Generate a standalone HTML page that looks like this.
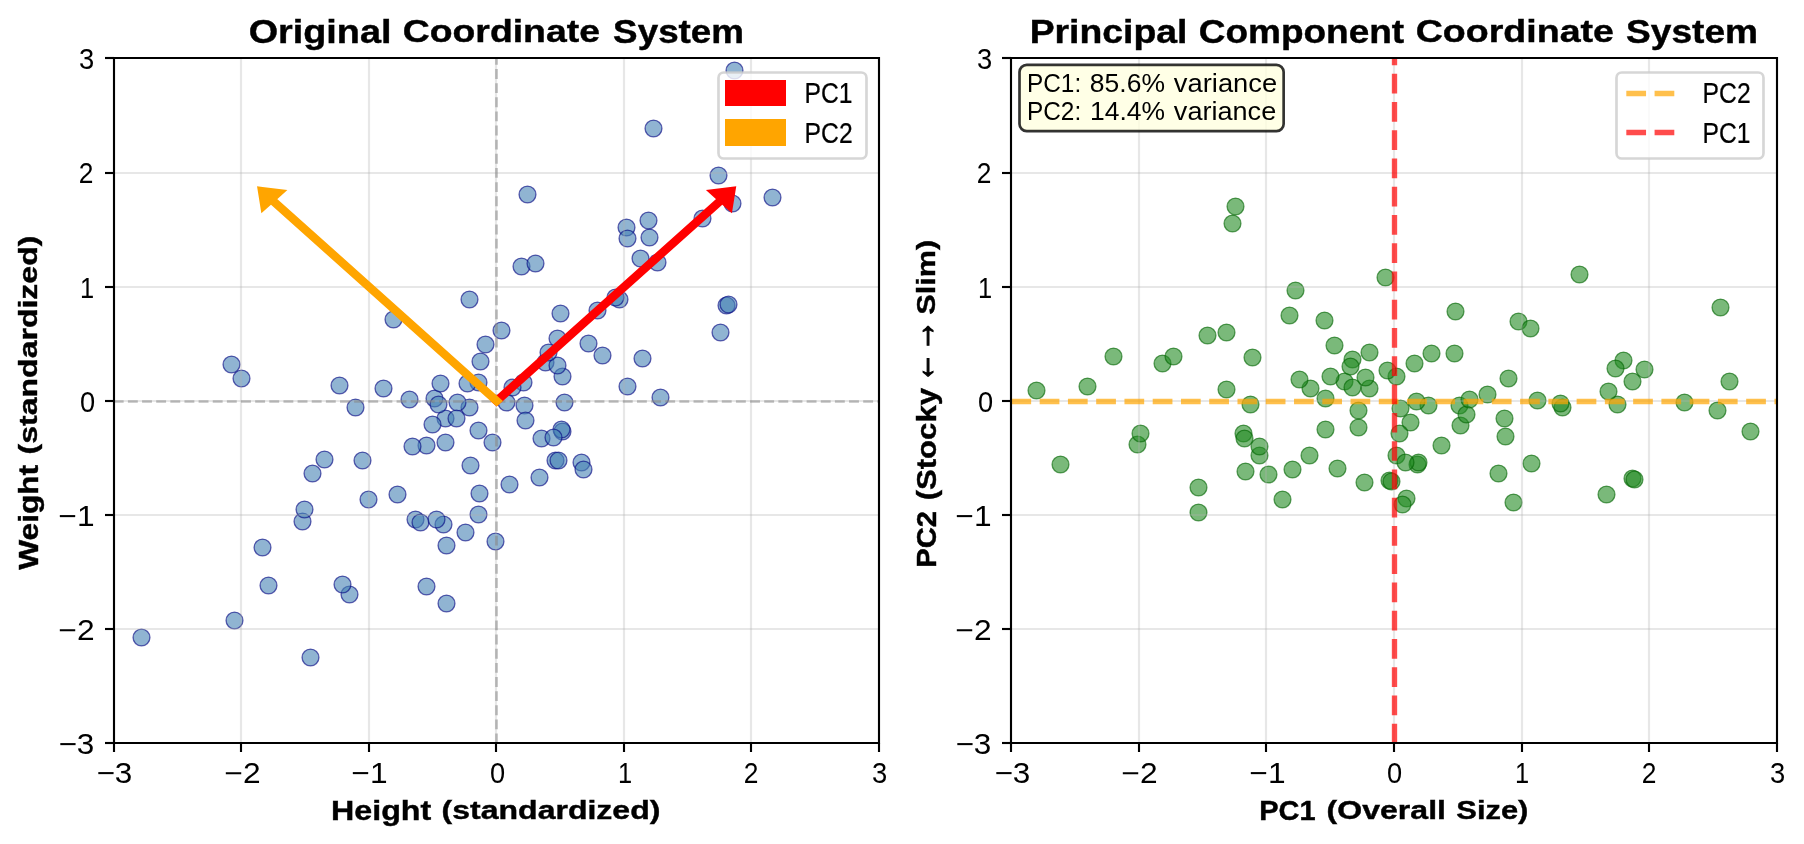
<!DOCTYPE html>
<html lang="en"><head><meta charset="utf-8"><title>PCA coordinate systems</title>
<style>html,body{margin:0;padding:0;background:#fff}body{width:1804px;height:844px;overflow:hidden}svg{display:block;will-change:transform}text{font-family:"Liberation Sans",sans-serif;fill:#000}</style></head><body>
<svg width="1804" height="844" viewBox="0 0 1804 844">
<rect width="1804" height="844" fill="#fff"/>
<defs>
<clipPath id="c0"><rect x="113.78" y="58.4" width="765.2" height="685.07"/></clipPath>
<clipPath id="c1"><rect x="1011.41" y="58.4" width="765.2" height="685.07"/></clipPath>
</defs>
<!-- left panel: original coordinate system -->
<g clip-path="url(#c0)" fill="#4682b4" fill-opacity="0.6" stroke="#000080" stroke-opacity="0.6" stroke-width="1.33">
<circle cx="581.50" cy="462.50" r="8.43"/><circle cx="492.50" cy="442.50" r="8.43"/><circle cx="602.50" cy="355.50" r="8.43"/><circle cx="726.50" cy="305.50" r="8.43"/><circle cx="478.50" cy="430.50" r="8.43"/><circle cx="478.50" cy="382.50" r="8.43"/><circle cx="734.50" cy="70.50" r="8.43"/><circle cx="619.50" cy="299.50" r="8.43"/><circle cx="445.50" cy="418.50" r="8.43"/><circle cx="588.50" cy="343.50" r="8.43"/><circle cx="446.50" cy="603.50" r="8.43"/><circle cx="445.50" cy="442.50" r="8.43"/><circle cx="545.50" cy="362.50" r="8.43"/><circle cx="241.50" cy="378.50" r="8.43"/><circle cx="268.50" cy="585.50" r="8.43"/><circle cx="432.50" cy="424.50" r="8.43"/><circle cx="368.50" cy="499.50" r="8.43"/><circle cx="555.50" cy="460.50" r="8.43"/><circle cx="383.50" cy="388.50" r="8.43"/><circle cx="312.50" cy="473.50" r="8.43"/><circle cx="718.50" cy="175.50" r="8.43"/><circle cx="479.50" cy="493.50" r="8.43"/><circle cx="521.50" cy="266.50" r="8.43"/><circle cx="310.50" cy="657.50" r="8.43"/><circle cx="434.50" cy="398.50" r="8.43"/><circle cx="527.50" cy="194.50" r="8.43"/><circle cx="349.50" cy="594.50" r="8.43"/><circle cx="564.50" cy="402.50" r="8.43"/><circle cx="426.50" cy="445.50" r="8.43"/><circle cx="470.50" cy="465.50" r="8.43"/><circle cx="426.50" cy="586.50" r="8.43"/><circle cx="772.50" cy="197.50" r="8.43"/><circle cx="509.50" cy="484.50" r="8.43"/><circle cx="362.50" cy="460.50" r="8.43"/><circle cx="627.50" cy="386.50" r="8.43"/><circle cx="339.50" cy="385.50" r="8.43"/><circle cx="541.50" cy="438.50" r="8.43"/><circle cx="234.50" cy="620.50" r="8.43"/><circle cx="324.50" cy="459.50" r="8.43"/><circle cx="539.50" cy="477.50" r="8.43"/><circle cx="615.50" cy="297.50" r="8.43"/><circle cx="535.50" cy="263.50" r="8.43"/><circle cx="495.50" cy="541.50" r="8.43"/><circle cx="469.50" cy="407.50" r="8.43"/><circle cx="302.50" cy="521.50" r="8.43"/><circle cx="409.50" cy="399.50" r="8.43"/><circle cx="446.50" cy="545.50" r="8.43"/><circle cx="660.50" cy="397.50" r="8.43"/><circle cx="560.50" cy="313.50" r="8.43"/><circle cx="262.50" cy="547.50" r="8.43"/><circle cx="557.50" cy="338.50" r="8.43"/><circle cx="457.50" cy="402.50" r="8.43"/><circle cx="415.50" cy="519.50" r="8.43"/><circle cx="597.50" cy="310.50" r="8.43"/><circle cx="657.50" cy="262.50" r="8.43"/><circle cx="642.50" cy="358.50" r="8.43"/><circle cx="393.50" cy="319.50" r="8.43"/><circle cx="467.50" cy="383.50" r="8.43"/><circle cx="558.50" cy="460.50" r="8.43"/><circle cx="649.50" cy="237.50" r="8.43"/><circle cx="443.50" cy="524.50" r="8.43"/><circle cx="485.50" cy="344.50" r="8.43"/><circle cx="355.50" cy="407.50" r="8.43"/><circle cx="342.50" cy="584.50" r="8.43"/><circle cx="626.50" cy="227.50" r="8.43"/><circle cx="702.50" cy="218.50" r="8.43"/><circle cx="501.50" cy="330.50" r="8.43"/><circle cx="653.50" cy="128.50" r="8.43"/><circle cx="562.50" cy="376.50" r="8.43"/><circle cx="420.50" cy="522.50" r="8.43"/><circle cx="562.50" cy="431.50" r="8.43"/><circle cx="728.50" cy="304.50" r="8.43"/><circle cx="506.50" cy="402.50" r="8.43"/><circle cx="732.50" cy="203.50" r="8.43"/><circle cx="141.50" cy="637.50" r="8.43"/><circle cx="627.50" cy="238.50" r="8.43"/><circle cx="523.50" cy="382.50" r="8.43"/><circle cx="469.50" cy="299.50" r="8.43"/><circle cx="524.50" cy="405.50" r="8.43"/><circle cx="231.50" cy="364.50" r="8.43"/><circle cx="480.50" cy="361.50" r="8.43"/><circle cx="561.50" cy="429.50" r="8.43"/><circle cx="720.50" cy="332.50" r="8.43"/><circle cx="438.50" cy="404.50" r="8.43"/><circle cx="397.50" cy="494.50" r="8.43"/><circle cx="440.50" cy="383.50" r="8.43"/><circle cx="640.50" cy="258.50" r="8.43"/><circle cx="557.50" cy="365.50" r="8.43"/><circle cx="436.50" cy="519.50" r="8.43"/><circle cx="583.50" cy="469.50" r="8.43"/><circle cx="525.50" cy="420.50" r="8.43"/><circle cx="648.50" cy="220.50" r="8.43"/><circle cx="412.50" cy="446.50" r="8.43"/><circle cx="465.50" cy="532.50" r="8.43"/><circle cx="456.50" cy="418.50" r="8.43"/><circle cx="304.50" cy="509.50" r="8.43"/><circle cx="553.50" cy="437.50" r="8.43"/><circle cx="548.50" cy="352.50" r="8.43"/><circle cx="512.50" cy="387.50" r="8.43"/><circle cx="478.50" cy="514.50" r="8.43"/>
</g>
<g stroke="#b0b0b0" stroke-opacity="0.3" stroke-width="2.13"><path d="M241 58.4 V743.47"/><path d="M369 58.4 V743.47"/><path d="M496 58.4 V743.47"/><path d="M624 58.4 V743.47"/><path d="M751 58.4 V743.47"/><path d="M113.78 173 H878.98"/><path d="M113.78 287 H878.98"/><path d="M113.78 401 H878.98"/><path d="M113.78 515 H878.98"/><path d="M113.78 629 H878.98"/></g>
<g clip-path="url(#c0)" stroke="#808080" stroke-opacity="0.5" stroke-width="2.67" stroke-dasharray="9.87 4.27" fill="none"><path d="M113.78 401.5 H878.98"/><path d="M496.5 743.47 V58.4"/></g>
<g stroke="#000" stroke-width="2.13" fill="none"><path d="M114 743 V752"/><path d="M241 743 V752"/><path d="M369 743 V752"/><path d="M496 743 V752"/><path d="M624 743 V752"/><path d="M751 743 V752"/><path d="M879 743 V752"/><path d="M105 58 H114"/><path d="M105 173 H114"/><path d="M105 287 H114"/><path d="M105 401 H114"/><path d="M105 515 H114"/><path d="M105 629 H114"/><path d="M105 743 H114"/><path stroke-linecap="square" d="M114 58 V743 M879 58 V743 M114 58 H879 M114 743 H879"/></g>
<polygon points="731.27,191.02 729.01,205.15 722.29,199.13 496.69,400.97 496.60,400.89 722.20,199.05 715.48,193.04" fill="#ff0000" stroke="#ff0000" stroke-width="8.33" stroke-linejoin="miter" stroke-miterlimit="10"/>
<polygon points="262.02,191.02 277.81,193.04 271.09,199.05 496.69,400.89 496.60,400.97 271.00,199.13 264.27,205.15" fill="#ffa500" stroke="#ffa500" stroke-width="8.33" stroke-linejoin="miter" stroke-miterlimit="10"/>
<!-- right panel: principal component coordinate system -->
<g clip-path="url(#c1)" fill="#228b22" fill-opacity="0.6" stroke="#006400" stroke-opacity="0.6" stroke-width="1.33">
<circle cx="1406.50" cy="498.50" r="8.43"/><circle cx="1358.50" cy="427.50" r="8.43"/><circle cx="1505.50" cy="436.50" r="8.43"/><circle cx="1632.50" cy="478.50" r="8.43"/><circle cx="1358.50" cy="410.50" r="8.43"/><circle cx="1396.50" cy="376.50" r="8.43"/><circle cx="1562.50" cy="407.50" r="8.43"/><circle cx="1344.50" cy="381.50" r="8.43"/><circle cx="1504.50" cy="418.50" r="8.43"/><circle cx="1198.50" cy="512.50" r="8.43"/><circle cx="1325.50" cy="398.50" r="8.43"/><circle cx="1459.50" cy="405.50" r="8.43"/><circle cx="1232.50" cy="223.50" r="8.43"/><circle cx="1087.50" cy="386.50" r="8.43"/><circle cx="1330.50" cy="376.50" r="8.43"/><circle cx="1226.50" cy="389.50" r="8.43"/><circle cx="1389.50" cy="480.50" r="8.43"/><circle cx="1324.50" cy="320.50" r="8.43"/><circle cx="1207.50" cy="335.50" r="8.43"/><circle cx="1729.50" cy="381.50" r="8.43"/><circle cx="1309.50" cy="455.50" r="8.43"/><circle cx="1518.50" cy="321.50" r="8.43"/><circle cx="1060.50" cy="464.50" r="8.43"/><circle cx="1352.50" cy="359.50" r="8.43"/><circle cx="1579.50" cy="274.50" r="8.43"/><circle cx="1137.50" cy="444.50" r="8.43"/><circle cx="1441.50" cy="445.50" r="8.43"/><circle cx="1310.50" cy="388.50" r="8.43"/><circle cx="1325.50" cy="429.50" r="8.43"/><circle cx="1198.50" cy="487.50" r="8.43"/><circle cx="1750.50" cy="431.50" r="8.43"/><circle cx="1337.50" cy="468.50" r="8.43"/><circle cx="1252.50" cy="357.50" r="8.43"/><circle cx="1498.50" cy="473.50" r="8.43"/><circle cx="1295.50" cy="290.50" r="8.43"/><circle cx="1396.50" cy="455.50" r="8.43"/><circle cx="1036.50" cy="390.50" r="8.43"/><circle cx="1226.50" cy="332.50" r="8.43"/><circle cx="1364.50" cy="482.50" r="8.43"/><circle cx="1560.50" cy="403.50" r="8.43"/><circle cx="1530.50" cy="328.50" r="8.43"/><circle cx="1282.50" cy="499.50" r="8.43"/><circle cx="1369.50" cy="388.50" r="8.43"/><circle cx="1162.50" cy="363.50" r="8.43"/><circle cx="1334.50" cy="345.50" r="8.43"/><circle cx="1245.50" cy="471.50" r="8.43"/><circle cx="1513.50" cy="502.50" r="8.43"/><circle cx="1508.50" cy="378.50" r="8.43"/><circle cx="1113.50" cy="356.50" r="8.43"/><circle cx="1487.50" cy="394.50" r="8.43"/><circle cx="1365.50" cy="377.50" r="8.43"/><circle cx="1243.50" cy="433.50" r="8.43"/><circle cx="1537.50" cy="400.50" r="8.43"/><circle cx="1617.50" cy="404.50" r="8.43"/><circle cx="1531.50" cy="463.50" r="8.43"/><circle cx="1385.50" cy="277.50" r="8.43"/><circle cx="1387.50" cy="370.50" r="8.43"/><circle cx="1391.50" cy="481.50" r="8.43"/><circle cx="1632.50" cy="381.50" r="8.43"/><circle cx="1259.50" cy="455.50" r="8.43"/><circle cx="1431.50" cy="353.50" r="8.43"/><circle cx="1289.50" cy="315.50" r="8.43"/><circle cx="1140.50" cy="433.50" r="8.43"/><circle cx="1623.50" cy="360.50" r="8.43"/><circle cx="1684.50" cy="402.50" r="8.43"/><circle cx="1454.50" cy="353.50" r="8.43"/><circle cx="1720.50" cy="307.50" r="8.43"/><circle cx="1460.50" cy="425.50" r="8.43"/><circle cx="1244.50" cy="438.50" r="8.43"/><circle cx="1417.50" cy="464.50" r="8.43"/><circle cx="1634.50" cy="479.50" r="8.43"/><circle cx="1400.50" cy="408.50" r="8.43"/><circle cx="1717.50" cy="410.50" r="8.43"/><circle cx="1615.50" cy="368.50" r="8.43"/><circle cx="1428.50" cy="405.50" r="8.43"/><circle cx="1455.50" cy="311.50" r="8.43"/><circle cx="1410.50" cy="422.50" r="8.43"/><circle cx="1235.50" cy="206.50" r="8.43"/><circle cx="1414.50" cy="363.50" r="8.43"/><circle cx="1418.50" cy="462.50" r="8.43"/><circle cx="1606.50" cy="494.50" r="8.43"/><circle cx="1350.50" cy="366.50" r="8.43"/><circle cx="1250.50" cy="404.50" r="8.43"/><circle cx="1369.50" cy="352.50" r="8.43"/><circle cx="1608.50" cy="391.50" r="8.43"/><circle cx="1466.50" cy="414.50" r="8.43"/><circle cx="1259.50" cy="446.50" r="8.43"/><circle cx="1402.50" cy="504.50" r="8.43"/><circle cx="1399.50" cy="433.50" r="8.43"/><circle cx="1644.50" cy="369.50" r="8.43"/><circle cx="1299.50" cy="379.50" r="8.43"/><circle cx="1268.50" cy="474.50" r="8.43"/><circle cx="1352.50" cy="387.50" r="8.43"/><circle cx="1173.50" cy="356.50" r="8.43"/><circle cx="1405.50" cy="462.50" r="8.43"/><circle cx="1469.50" cy="399.50" r="8.43"/><circle cx="1416.50" cy="401.50" r="8.43"/><circle cx="1292.50" cy="469.50" r="8.43"/>
</g>
<g stroke="#b0b0b0" stroke-opacity="0.3" stroke-width="2.13"><path d="M1139 58.4 V743.47"/><path d="M1266 58.4 V743.47"/><path d="M1394 58.4 V743.47"/><path d="M1522 58.4 V743.47"/><path d="M1649 58.4 V743.47"/><path d="M1011.41 173 H1776.62"/><path d="M1011.41 287 H1776.62"/><path d="M1011.41 401 H1776.62"/><path d="M1011.41 515 H1776.62"/><path d="M1011.41 629 H1776.62"/></g>
<g clip-path="url(#c1)" stroke-opacity="0.7" stroke-width="5.33" stroke-dasharray="19.73 8.53" fill="none"><path stroke="#ffa500" d="M1011.41 401.5 H1776.62"/><path stroke="#ff0000" d="M1394.5 743.47 V58.4"/></g>
<g stroke="#000" stroke-width="2.13" fill="none"><path d="M1011 743 V752"/><path d="M1139 743 V752"/><path d="M1266 743 V752"/><path d="M1394 743 V752"/><path d="M1522 743 V752"/><path d="M1649 743 V752"/><path d="M1777 743 V752"/><path d="M1002 58 H1011"/><path d="M1002 173 H1011"/><path d="M1002 287 H1011"/><path d="M1002 401 H1011"/><path d="M1002 515 H1011"/><path d="M1002 629 H1011"/><path d="M1002 743 H1011"/><path stroke-linecap="square" d="M1011 58 V743 M1777 58 V743 M1011 58 H1777 M1011 743 H1777"/></g>
<g>
<g><text font-size="32" font-weight="700" stroke="#000" stroke-width="0.409" transform="matrix(1.1806 0 0 1.0183 248.71 42.85)">Original</text> <text font-size="32" font-weight="700" stroke="#000" stroke-width="0.415" transform="matrix(1.1680 0 0 1.0013 402.73 42.45)">Coordinate</text> <text font-size="32" font-weight="700" stroke="#000" stroke-width="0.415" transform="matrix(1.1503 0 0 1.0204 613.12 43.00)">System</text></g>
<g><text font-size="32" font-weight="700" stroke="#000" stroke-width="0.411" transform="matrix(1.1670 0 0 1.0238 1029.70 42.98)">Principal</text> <text font-size="32" font-weight="700" stroke="#000" stroke-width="0.414" transform="matrix(1.1560 0 0 1.0204 1198.75 43.00)">Component</text> <text font-size="32" font-weight="700" stroke="#000" stroke-width="0.414" transform="matrix(1.1741 0 0 1.0013 1415.72 42.45)">Coordinate</text> <text font-size="32" font-weight="700" stroke="#000" stroke-width="0.413" transform="matrix(1.1594 0 0 1.0204 1626.11 43.00)">System</text></g>
<g><text font-size="26.67" font-weight="700" stroke="#000" stroke-width="0.404" transform="matrix(1.2073 0 0 1.0220 331.05 819.98)">Height</text> <text font-size="26.67" font-weight="700" stroke="#000" stroke-width="0.419" transform="matrix(1.2006 0 0 0.9471 441.62 818.53)">(standardized)</text></g>
<g><text font-size="26.67" font-weight="700" stroke="#000" stroke-width="0.424" transform="matrix(1.0855 0 0 1.0362 1259.27 819.50)">PC1</text> <text font-size="26.67" font-weight="700" stroke="#000" stroke-width="0.419" transform="matrix(1.2020 0 0 0.9471 1326.62 818.53)">(Overall</text> <text font-size="26.67" font-weight="700" stroke="#000" stroke-width="0.428" transform="matrix(1.1579 0 0 0.9471 1456.30 818.53)">Size)</text></g>
<g><text font-size="26.67" font-weight="700" stroke="#000" stroke-width="0.407" transform="matrix(0 -1.1872 1.0220 0 37.98 569.77)">Weight</text> <text font-size="26.67" font-weight="700" stroke="#000" stroke-width="0.419" transform="matrix(0 -1.2006 0.9471 0 36.53 454.38)">(standardized)</text></g>
<g><text font-size="26.67" font-weight="700" stroke="#000" stroke-width="0.423" transform="matrix(0 -1.0914 1.0362 0 935.50 567.74)">PC2</text> <text font-size="26.67" font-weight="700" stroke="#000" stroke-width="0.410" transform="matrix(0 -1.1661 1.0275 0 936.09 500.33)">(Stocky</text> <text font-size="26.67" font-weight="700" stroke="#000" stroke-width="0.734" transform="matrix(0 -1.1441 1.5789 0 934.50 382.75)">←</text> <text font-size="26.67" font-weight="700" stroke="#000" stroke-width="0.718" transform="matrix(0 -1.2076 1.5789 0 934.50 352.10)">→</text> <text font-size="26.67" font-weight="700" stroke="#000" stroke-width="0.429" transform="matrix(0 -1.1504 0.9471 0 934.53 314.70)">Slim)</text></g>
</g>
<g>
<text font-size="26.67" transform="matrix(1.1814 0 0 1.0919 96.42 782.71)">−3</text>
<text font-size="26.67" transform="matrix(1.1899 0 0 1.0753 224.41 783.00)">−2</text>
<text font-size="26.67" transform="matrix(1.1871 0 0 1.0909 351.42 783.00)">−1</text>
<text font-size="26.67" transform="matrix(1.0209 0 0 1.0919 489.91 782.71)">0</text>
<text font-size="26.67" transform="matrix(0.9538 0 0 1.0909 618.09 783.00)">1</text>
<text font-size="26.67" transform="matrix(0.9890 0 0 1.0753 743.68 783.00)">2</text>
<text font-size="26.67" transform="matrix(1.0263 0 0 1.0919 871.97 782.71)">3</text>
<text font-size="26.67" transform="matrix(1.1814 0 0 1.0919 58.42 753.71)">−3</text>
<text font-size="26.67" transform="matrix(1.1899 0 0 1.0753 58.41 640.00)">−2</text>
<text font-size="26.67" transform="matrix(1.1871 0 0 1.0909 58.42 526.00)">−1</text>
<text font-size="26.67" transform="matrix(1.0209 0 0 1.0919 79.91 411.71)">0</text>
<text font-size="26.67" transform="matrix(0.9538 0 0 1.0909 80.09 298.00)">1</text>
<text font-size="26.67" transform="matrix(0.9890 0 0 1.0753 78.68 183.00)">2</text>
<text font-size="26.67" transform="matrix(1.0263 0 0 1.0919 78.97 68.71)">3</text>
<text font-size="26.67" transform="matrix(1.1814 0 0 1.0919 994.42 782.71)">−3</text>
<text font-size="26.67" transform="matrix(1.1899 0 0 1.0753 1121.41 783.00)">−2</text>
<text font-size="26.67" transform="matrix(1.1871 0 0 1.0909 1249.42 783.00)">−1</text>
<text font-size="26.67" transform="matrix(1.0209 0 0 1.0919 1386.91 782.71)">0</text>
<text font-size="26.67" transform="matrix(0.9538 0 0 1.0909 1515.09 783.00)">1</text>
<text font-size="26.67" transform="matrix(0.9890 0 0 1.0753 1641.68 783.00)">2</text>
<text font-size="26.67" transform="matrix(1.0263 0 0 1.0919 1769.97 782.71)">3</text>
<text font-size="26.67" transform="matrix(1.1814 0 0 1.0919 955.42 753.71)">−3</text>
<text font-size="26.67" transform="matrix(1.1899 0 0 1.0753 955.41 640.00)">−2</text>
<text font-size="26.67" transform="matrix(1.1871 0 0 1.0909 955.42 526.00)">−1</text>
<text font-size="26.67" transform="matrix(1.0209 0 0 1.0919 977.91 411.71)">0</text>
<text font-size="26.67" transform="matrix(0.9538 0 0 1.0909 978.09 298.00)">1</text>
<text font-size="26.67" transform="matrix(0.9890 0 0 1.0753 976.68 183.00)">2</text>
<text font-size="26.67" transform="matrix(1.0263 0 0 1.0919 976.97 68.71)">3</text>
</g>
<!-- legends -->
<rect x="718.5" y="72.5" width="148" height="86" rx="5.33" fill="#fff" fill-opacity="0.8" stroke="#ccc" stroke-opacity="0.8" stroke-width="2.67"/>
<rect x="725" y="80" width="61" height="26" fill="#ff0000"/><rect x="725" y="119" width="61" height="27" fill="#ffa500"/>
<text font-size="26.67" stroke="#000" stroke-width="0.219" transform="matrix(0.9252 0 0 1.0802 804.57 102.60)">PC1</text>
<text font-size="26.67" stroke="#000" stroke-width="0.219" transform="matrix(0.9265 0 0 1.0802 804.57 142.60)">PC2</text>
<rect x="1616.5" y="72.5" width="147" height="86" rx="5.33" fill="#fff" fill-opacity="0.8" stroke="#ccc" stroke-opacity="0.8" stroke-width="2.67"/>
<g stroke-opacity="0.7" stroke-width="5.33" stroke-dasharray="19.73 8.53" fill="none"><path stroke="#ffa500" d="M1626.32 93.5 H1679.65"/><path stroke="#ff0000" d="M1626.32 132.5 H1679.65"/></g>
<text font-size="26.67" stroke="#000" stroke-width="0.219" transform="matrix(0.9265 0 0 1.0802 1702.57 102.60)">PC2</text>
<text font-size="26.67" stroke="#000" stroke-width="0.219" transform="matrix(0.9252 0 0 1.0802 1702.57 142.60)">PC1</text>
<!-- variance annotation -->
<rect x="1019.5" y="64.9" width="264.15" height="66.2" rx="7.2" fill="#ffffe0" fill-opacity="0.8" stroke="#000" stroke-opacity="0.8" stroke-width="2.67"/>
<g><text font-size="24" transform="matrix(1.0163 0 0 1.0601 1026.99 91.75)">PC1:</text> <text font-size="24" transform="matrix(1.1031 0 0 1.0601 1089.87 91.75)">85.6%</text> <text font-size="24" transform="matrix(1.1394 0 0 1.0771 1173.86 91.74)">variance</text></g>
<g><text font-size="24" transform="matrix(1.0163 0 0 1.0601 1026.99 119.75)">PC2:</text> <text font-size="24" transform="matrix(1.1009 0 0 1.0714 1090.02 119.87)">14.4%</text> <text font-size="24" transform="matrix(1.1282 0 0 1.0771 1173.86 119.74)">variance</text></g>
</svg></body></html>
